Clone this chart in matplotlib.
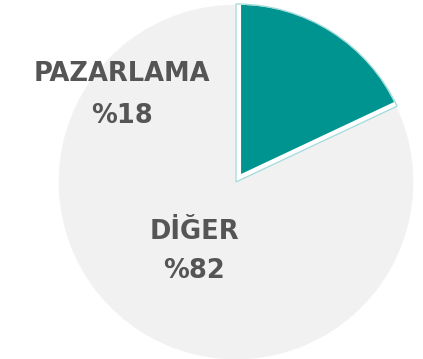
import matplotlib
matplotlib.use("Agg")
import matplotlib.pyplot as plt
from matplotlib.patches import Wedge

labels = ["PAZARLAMA", "DİĞER"]
values = [18, 82]
colors = ["#009490", "#f1f1f1"]

W, H = 423, 359
fig = plt.figure(figsize=(W / 100, H / 100), dpi=100)
ax = fig.add_axes([0, 0, 1, 1])

wedges, _ = ax.pie(values, colors=colors, startangle=90, counterclock=False,
                   explode=[0.035, 0], radius=1.0,
                   wedgeprops=dict(edgecolor="white", linewidth=1))
wedges[0].set_radius(0.975)
wedges[0].set_linewidth(2.5)
wedges[0].set_zorder(3)

# highlight outline around the selected slice
t1 = wedges[0].theta1
t2 = wedges[0].theta2
ax.add_patch(Wedge((0, 0), 1.0, t1, t2, facecolor="none",
                   edgecolor="#a6dcdc", linewidth=1, zorder=4))

ax.set_xlim(-236 / 178, (W - 236) / 178)
ax.set_ylim(-177 / 178, (H - 177) / 178)
ax.set_aspect("equal")
ax.axis("off")

text_kw = dict(ha="center", va="baseline", color="#555555",
               fontsize=18.5, fontweight="bold", family="DejaVu Sans")
ax.text(-0.640, 0.569, labels[0], **text_kw)
ax.text(-0.640, 0.331, f"%{values[0]}", **text_kw)
ax.text(-0.236, -0.320, labels[1], **text_kw)
ax.text(-0.236, -0.539, f"%{values[1]}", **text_kw)

fig.savefig("out.png", dpi=100)
